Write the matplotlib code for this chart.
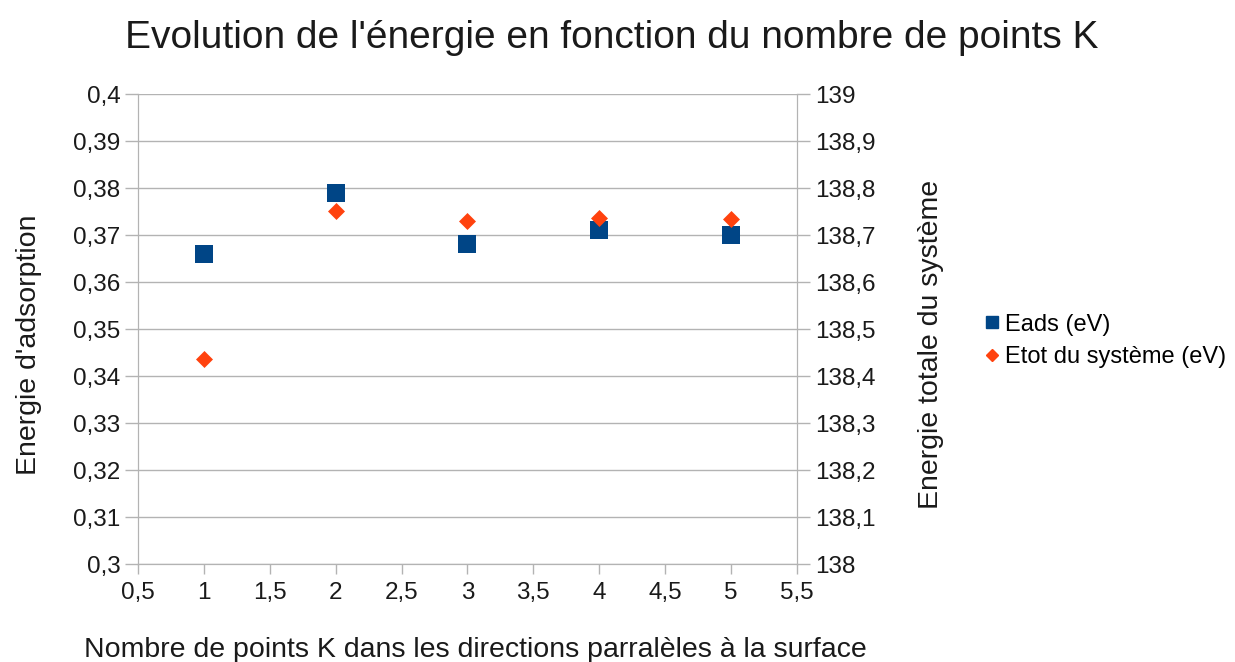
import matplotlib.pyplot as plt
from matplotlib.lines import Line2D
from matplotlib.ticker import FuncFormatter, MultipleLocator

plt.rcParams['font.family'] = ['Liberation Sans', 'DejaVu Sans']

# data
k_points = [1, 2, 3, 4, 5]
eads = [0.366, 0.379, 0.368, 0.371, 0.370]
etot = [138.436, 138.751, 138.730, 138.736, 138.734]

blue = "#004586"
orange = "#ff420e"
grey = "#b3b3b3"


def comma(v, pos):
    s = f"{v:.2f}".rstrip("0").rstrip(".")
    return s.replace(".", ",")


def comma1(v, pos):
    s = f"{v:.1f}".rstrip("0").rstrip(".")
    return s.replace(".", ",")


fig = plt.figure(figsize=(12.35, 6.62), dpi=100)
ax = fig.add_axes([0.112, 0.148, 0.533, 0.71])
ax2 = ax.twinx()

ax.scatter(k_points, eads, marker="s", s=160, color=blue, zorder=3, linewidths=0)
ax2.scatter(k_points, etot, marker="D", s=75, color=orange, zorder=3, linewidths=0)

ax.set_xlim(0.5, 5.5)
ax.set_ylim(0.3, 0.4)
ax2.set_ylim(138, 139)
ax.xaxis.set_major_locator(MultipleLocator(0.5))
ax.yaxis.set_major_locator(MultipleLocator(0.01))
ax2.yaxis.set_major_locator(MultipleLocator(0.1))
ax.xaxis.set_major_formatter(FuncFormatter(comma1))
ax.yaxis.set_major_formatter(FuncFormatter(comma))
ax2.yaxis.set_major_formatter(FuncFormatter(comma1))

ax.grid(axis="y", color=grey, linewidth=1)
ax.set_axisbelow(True)
for a in (ax, ax2):
    a.spines["top"].set_visible(False)
    for sp in ("left", "right", "bottom"):
        a.spines[sp].set_color(grey)
    a.tick_params(colors=grey, labelcolor="#1a1a1a", labelsize=17.5, length=9.5, width=1, pad=3.5)
ax.tick_params(axis="x", length=7, pad=6)

fig.text(0.385, 0.0076, "Nombre de points K dans les directions parralèles à la surface",
         fontsize=20.5, ha="center", va="baseline", color="#1a1a1a")
fig.text(0.0235, 0.479, "Energie d'adsorption", fontsize=20.5, rotation=90,
         ha="center", va="center", color="#1a1a1a")
fig.text(0.754, 0.480, "Energie totale du système", fontsize=20.5, rotation=90,
         ha="center", va="center", color="#1a1a1a")
fig.text(0.495, 0.942, "Evolution de l'énergie en fonction du nombre de points K",
         fontsize=28, ha="center", va="center", color="#1a1a1a")

handles = [
    Line2D([], [], linestyle="none", marker="s", markersize=9.1, color=blue),
    Line2D([], [], linestyle="none", marker="D", markersize=6.1, color=orange),
]
fig.legend(handles, ["Eads (eV)", "Etot du système (eV)"], loc="center left",
           bbox_to_anchor=(0.786, 0.485), frameon=False, fontsize=17,
           handlelength=0.8, handletextpad=0.15, labelspacing=0.45, borderpad=0)

fig.savefig("out.png", dpi=100, facecolor="white")
